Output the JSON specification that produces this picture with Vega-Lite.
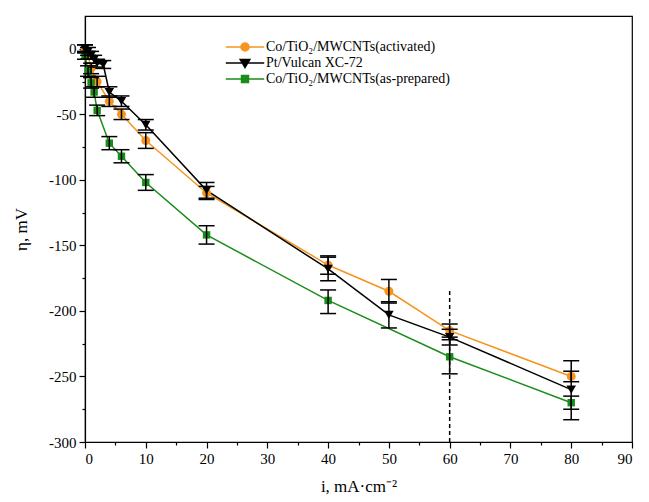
{
  "$schema": "https://vega.github.io/schema/vega-lite/v6.json",
  "width": 547,
  "height": 426,
  "autosize": {"type": "none"},
  "padding": {"left": 85, "top": 16, "right": 17, "bottom": 60},
  "background": "white",
  "config": {
    "view": {"stroke": "black", "strokeWidth": 1.2},
    "font": "Liberation Serif",
    "axis": {
      "labelFont": "Liberation Serif", "labelFontSize": 15, "labelColor": "black",
      "titleFont": "Liberation Serif", "titleFontSize": 17, "titleFontWeight": "normal", "titleColor": "black",
      "domainColor": "black", "domainWidth": 1.2, "tickColor": "black", "tickWidth": 1.2, "grid": false
    },
    "legend": {"labelFont": "Liberation Serif"}
  },
  "datasets": {
    "pts": [
      {"s": "Co/TiO₂/MWCNTs(activated)", "x": 0, "y": 0, "lo": -3, "hi": 3},
      {"s": "Co/TiO₂/MWCNTs(activated)", "x": 0.5, "y": -5, "lo": -8, "hi": -2},
      {"s": "Co/TiO₂/MWCNTs(activated)", "x": 1, "y": -15, "lo": -19, "hi": -11},
      {"s": "Co/TiO₂/MWCNTs(activated)", "x": 2, "y": -25, "lo": -29, "hi": -21},
      {"s": "Co/TiO₂/MWCNTs(activated)", "x": 4, "y": -40, "lo": -44, "hi": -36},
      {"s": "Co/TiO₂/MWCNTs(activated)", "x": 6, "y": -50, "lo": -54, "hi": -46},
      {"s": "Co/TiO₂/MWCNTs(activated)", "x": 10, "y": -70, "lo": -76, "hi": -64},
      {"s": "Co/TiO₂/MWCNTs(activated)", "x": 20, "y": -110, "lo": -115, "hi": -105},
      {"s": "Co/TiO₂/MWCNTs(activated)", "x": 40, "y": -165, "lo": -172, "hi": -158},
      {"s": "Co/TiO₂/MWCNTs(activated)", "x": 50, "y": -185, "lo": -194, "hi": -176},
      {"s": "Co/TiO₂/MWCNTs(activated)", "x": 60, "y": -215, "lo": -220, "hi": -210},
      {"s": "Co/TiO₂/MWCNTs(activated)", "x": 80, "y": -250, "lo": -254, "hi": -246},
      {"s": "Pt/Vulcan XC-72", "x": 0, "y": 0, "lo": -3, "hi": 3},
      {"s": "Pt/Vulcan XC-72", "x": 0.5, "y": -2, "lo": -5, "hi": 1},
      {"s": "Pt/Vulcan XC-72", "x": 1, "y": -5, "lo": -8, "hi": -2},
      {"s": "Pt/Vulcan XC-72", "x": 1.5, "y": -8, "lo": -11, "hi": -5},
      {"s": "Pt/Vulcan XC-72", "x": 2, "y": -11, "lo": -14, "hi": -8},
      {"s": "Pt/Vulcan XC-72", "x": 3, "y": -12, "lo": -15, "hi": -9},
      {"s": "Pt/Vulcan XC-72", "x": 4, "y": -33, "lo": -37, "hi": -29},
      {"s": "Pt/Vulcan XC-72", "x": 6, "y": -40, "lo": -44, "hi": -36},
      {"s": "Pt/Vulcan XC-72", "x": 10, "y": -58, "lo": -62, "hi": -54},
      {"s": "Pt/Vulcan XC-72", "x": 20, "y": -108, "lo": -114, "hi": -102},
      {"s": "Pt/Vulcan XC-72", "x": 40, "y": -168, "lo": -177, "hi": -159},
      {"s": "Pt/Vulcan XC-72", "x": 50, "y": -203, "lo": -213, "hi": -193},
      {"s": "Pt/Vulcan XC-72", "x": 60, "y": -220, "lo": -226, "hi": -214},
      {"s": "Pt/Vulcan XC-72", "x": 80, "y": -260, "lo": -283, "hi": -238},
      {"s": "Co/TiO₂/MWCNTs(as-prepared)", "x": 0, "y": -5, "lo": -8, "hi": -2},
      {"s": "Co/TiO₂/MWCNTs(as-prepared)", "x": 0.5, "y": -17, "lo": -21, "hi": -13},
      {"s": "Co/TiO₂/MWCNTs(as-prepared)", "x": 1, "y": -26, "lo": -30, "hi": -22},
      {"s": "Co/TiO₂/MWCNTs(as-prepared)", "x": 1.5, "y": -33, "lo": -37, "hi": -29},
      {"s": "Co/TiO₂/MWCNTs(as-prepared)", "x": 2, "y": -47, "lo": -51, "hi": -43},
      {"s": "Co/TiO₂/MWCNTs(as-prepared)", "x": 4, "y": -72, "lo": -77, "hi": -67},
      {"s": "Co/TiO₂/MWCNTs(as-prepared)", "x": 6, "y": -82, "lo": -87, "hi": -77},
      {"s": "Co/TiO₂/MWCNTs(as-prepared)", "x": 10, "y": -102, "lo": -108, "hi": -96},
      {"s": "Co/TiO₂/MWCNTs(as-prepared)", "x": 20, "y": -142, "lo": -149, "hi": -135},
      {"s": "Co/TiO₂/MWCNTs(as-prepared)", "x": 40, "y": -192, "lo": -202, "hi": -184},
      {"s": "Co/TiO₂/MWCNTs(as-prepared)", "x": 60, "y": -235, "lo": -248, "hi": -222},
      {"s": "Co/TiO₂/MWCNTs(as-prepared)", "x": 80, "y": -270, "lo": -275, "hi": -265}
    ],
    "ref": [{"x": 60, "y": -300, "y2": -183}]
  },
  "data": {"name": "pts"},
  "encoding": {
    "x": {
      "field": "x", "type": "quantitative",
      "scale": {"domain": [0, 90], "nice": false, "zero": false},
      "axis": {
        "title": "i, mA·cm⁻²",
        "values": [0, 5, 10, 15, 20, 25, 30, 35, 40, 45, 50, 55, 60, 65, 70, 75, 80, 85, 90],
        "labelExpr": "datum.value % 10 === 0 ? '' + datum.value : ''",
        "tickSize": {"condition": {"test": "datum.value % 10 === 0", "value": 6}, "value": 3},
        "labelFont": "Liberation Serif", "titleFont": "Liberation Serif",
        "labelPadding": 3,
        "titlePadding": 12
      }
    },
    "y": {
      "field": "y", "type": "quantitative",
      "scale": {"domain": [-300, 25], "nice": false, "zero": false},
      "axis": {
        "title": "η, mV",
        "values": [-300, -275, -250, -225, -200, -175, -150, -125, -100, -75, -50, -25, 0],
        "labelExpr": "datum.value % 50 === 0 ? '' + datum.value : ''",
        "tickSize": {"condition": {"test": "datum.value % 50 === 0", "value": 6}, "value": 3},
        "labelFont": "Liberation Serif", "titleFont": "Liberation Serif",
        "labelPadding": 3,
        "titlePadding": 18
      }
    }
  },
  "layer": [
    {
      "mark": {"type": "line", "strokeWidth": 1.5},
      "encoding": {
        "color": {
          "field": "s", "type": "nominal",
          "scale": {"domain": ["Pt/Vulcan XC-72", "Co/TiO₂/MWCNTs(activated)", "Co/TiO₂/MWCNTs(as-prepared)"], "range": ["#000000", "#F7941E", "#1A8C1A"]},
          "legend": null
        },
        "order": {"field": "x", "type": "quantitative"}
      }
    },
    {
      "data": {"name": "ref"},
      "mark": {"type": "rule", "color": "black", "strokeDash": [4, 3], "strokeWidth": 1.5},
      "encoding": {
        "y2": {"field": "y2"}
      }
    },
    {
      "transform": [{"filter": "datum.s === 'Co/TiO₂/MWCNTs(activated)'"}],
      "mark": {"type": "point", "shape": "circle", "filled": true, "opacity": 1, "size": 80, "color": "#F7941E"}
    },
    {
      "transform": [{"filter": "datum.s === 'Pt/Vulcan XC-72'"}],
      "mark": {"type": "point", "shape": "triangle-down", "filled": true, "opacity": 1, "size": 90, "color": "#000000"}
    },
    {
      "transform": [{"filter": "datum.s === 'Co/TiO₂/MWCNTs(as-prepared)'"}],
      "mark": {"type": "point", "shape": "square", "filled": true, "opacity": 1, "size": 55, "color": "#1A8C1A"}
    },
    {
      "mark": {"type": "rule", "color": "black", "strokeWidth": 1.5},
      "encoding": {
        "y": {"field": "lo", "type": "quantitative"},
        "y2": {"field": "hi"}
      }
    },
    {
      "mark": {"type": "tick", "color": "black", "thickness": 1.5, "size": 16, "orient": "horizontal", "opacity": 1},
      "encoding": {
        "y": {"field": "lo", "type": "quantitative"}
      }
    },
    {
      "mark": {"type": "tick", "color": "black", "thickness": 1.5, "size": 16, "orient": "horizontal", "opacity": 1},
      "encoding": {
        "y": {"field": "hi", "type": "quantitative"}
      }
    },
    {
      "mark": {"type": "point", "opacity": 0, "filled": true},
      "encoding": {
        "shape": {
          "field": "s", "type": "nominal",
          "scale": {
            "domain": ["Co/TiO₂/MWCNTs(activated)", "Pt/Vulcan XC-72", "Co/TiO₂/MWCNTs(as-prepared)"],
            "range": [
              "M-3.2,0H3.2M-0.67,0A0.67,0.67 0 1,0 0.67,0A0.67,0.67 0 1,0 -0.67,0Z",
              "M-3.2,0H3.2M-0.8,-0.6L0.8,-0.6L0,0.75Z",
              "M-3.2,0H3.2M-0.58,-0.58H0.58V0.58H-0.58Z"
            ]
          },
          "legend": {
            "title": null, "orient": "none", "legendX": 153, "legendY": 24, "padding": 0,
            "symbolSize": 144, "symbolStrokeWidth": 1.5, "symbolOpacity": 1,
            "labelFont": "Liberation Serif", "labelFontSize": 14, "labelColor": "black",
            "labelOffset": 14, "rowPadding": 1, "labelLimit": 400
          }
        },
        "fill": {
          "field": "s", "type": "nominal",
          "scale": {"domain": ["Co/TiO₂/MWCNTs(activated)", "Pt/Vulcan XC-72", "Co/TiO₂/MWCNTs(as-prepared)"], "range": ["#F7941E", "#000000", "#1A8C1A"]}
        },
        "stroke": {
          "field": "s", "type": "nominal",
          "scale": {"domain": ["Co/TiO₂/MWCNTs(activated)", "Pt/Vulcan XC-72", "Co/TiO₂/MWCNTs(as-prepared)"], "range": ["#F7941E", "#000000", "#1A8C1A"]}
        }
      }
    }
  ]
}
